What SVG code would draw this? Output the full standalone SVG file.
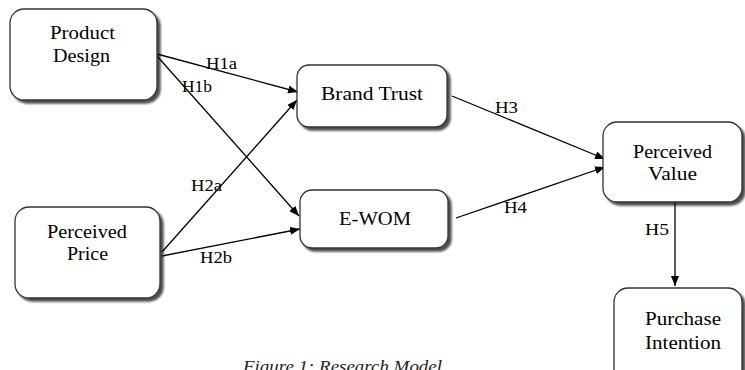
<svg xmlns="http://www.w3.org/2000/svg" width="745" height="370" viewBox="0 0 745 370">
<defs>
<marker id="ah" markerWidth="10" markerHeight="8" refX="10" refY="4" orient="auto" markerUnits="userSpaceOnUse">
<path d="M0,0 L10,4 L0,8 Z" fill="#000"/>
</marker>
<filter id="sh" x="-10%" y="-10%" width="130%" height="130%">
<feGaussianBlur in="SourceAlpha" stdDeviation="1.2"/>
<feOffset dx="3" dy="3" result="b"/>
<feComponentTransfer><feFuncA type="linear" slope="0.7"/></feComponentTransfer>
<feMerge><feMergeNode/><feMergeNode in="SourceGraphic"/></feMerge>
</filter>
</defs>
<style>
.box{fill:#fff;stroke:#333;stroke-width:1.3;filter:url(#sh)}
.t{font-family:"Liberation Serif","Times New Roman",serif;font-size:18px;fill:#000;text-anchor:middle}
.lb{font-family:"Liberation Serif","Times New Roman",serif;font-size:16px;fill:#000}
.c{stroke:#000;stroke-width:1.3;fill:none;marker-end:url(#ah)}
.cap{font-family:"Liberation Serif","Times New Roman",serif;font-size:16px;font-style:italic;fill:#222}
</style>
<rect width="745" height="370" fill="#fff"/>
<g id="connectors">
<line class="c" x1="157" y1="54" x2="298" y2="92"/>
<line class="c" x1="157" y1="56" x2="299" y2="216"/>
<line class="c" x1="162" y1="252" x2="297" y2="100"/>
<line class="c" x1="162" y1="256" x2="300" y2="229"/>
<line class="c" x1="452" y1="96" x2="605" y2="159"/>
<line class="c" x1="456" y1="218" x2="605" y2="167"/>
<line class="c" x1="675" y1="202" x2="675" y2="286"/>
<text class="lb" x="206" y="69" textLength="31" lengthAdjust="spacingAndGlyphs">H1a</text>
<text class="lb" x="182" y="92" textLength="30" lengthAdjust="spacingAndGlyphs">H1b</text>
<text class="lb" x="191" y="191" textLength="31" lengthAdjust="spacingAndGlyphs">H2a</text>
<text class="lb" x="200" y="263" textLength="32" lengthAdjust="spacingAndGlyphs">H2b</text>
<text class="lb" x="495" y="113" textLength="23" lengthAdjust="spacingAndGlyphs">H3</text>
<text class="lb" x="504" y="213" textLength="23" lengthAdjust="spacingAndGlyphs">H4</text>
<text class="lb" x="645" y="235" textLength="24" lengthAdjust="spacingAndGlyphs">H5</text>
</g>
<g id="product-design">
<rect class="box" x="10" y="9" width="147" height="91" rx="14"/>
<text class="t" x="82.5" y="39" textLength="65" lengthAdjust="spacingAndGlyphs">Product</text>
<text class="t" x="81.5" y="62" textLength="57" lengthAdjust="spacingAndGlyphs">Design</text>
</g>
<g id="perceived-price">
<rect class="box" x="15" y="207" width="145" height="91" rx="14"/>
<text class="t" x="87" y="238" textLength="80" lengthAdjust="spacingAndGlyphs">Perceived</text>
<text class="t" x="87.5" y="260" textLength="41" lengthAdjust="spacingAndGlyphs">Price</text>
</g>
<g id="brand-trust">
<rect class="box" x="297" y="65" width="150" height="62" rx="12"/>
<text class="t" x="372" y="100" textLength="102" lengthAdjust="spacingAndGlyphs">Brand Trust</text>
</g>
<g id="e-wom">
<rect class="box" x="300" y="190" width="148" height="58" rx="12"/>
<text class="t" x="375" y="225" textLength="72" lengthAdjust="spacingAndGlyphs">E-WOM</text>
</g>
<g id="perceived-value">
<rect class="box" x="603" y="122" width="139" height="80" rx="14"/>
<text class="t" x="672.5" y="158" textLength="79" lengthAdjust="spacingAndGlyphs">Perceived</text>
<text class="t" x="672.5" y="180" textLength="49" lengthAdjust="spacingAndGlyphs">Value</text>
</g>
<g id="purchase-intention">
<rect class="box" x="614" y="288" width="128" height="100" rx="14"/>
<text class="t" x="683" y="325" textLength="76" lengthAdjust="spacingAndGlyphs">Purchase</text>
<text class="t" x="683" y="349" textLength="76" lengthAdjust="spacingAndGlyphs">Intention</text>
</g>
<text class="cap" x="243" y="372" textLength="199" lengthAdjust="spacingAndGlyphs">Figure 1: Research Model</text>
</svg>
